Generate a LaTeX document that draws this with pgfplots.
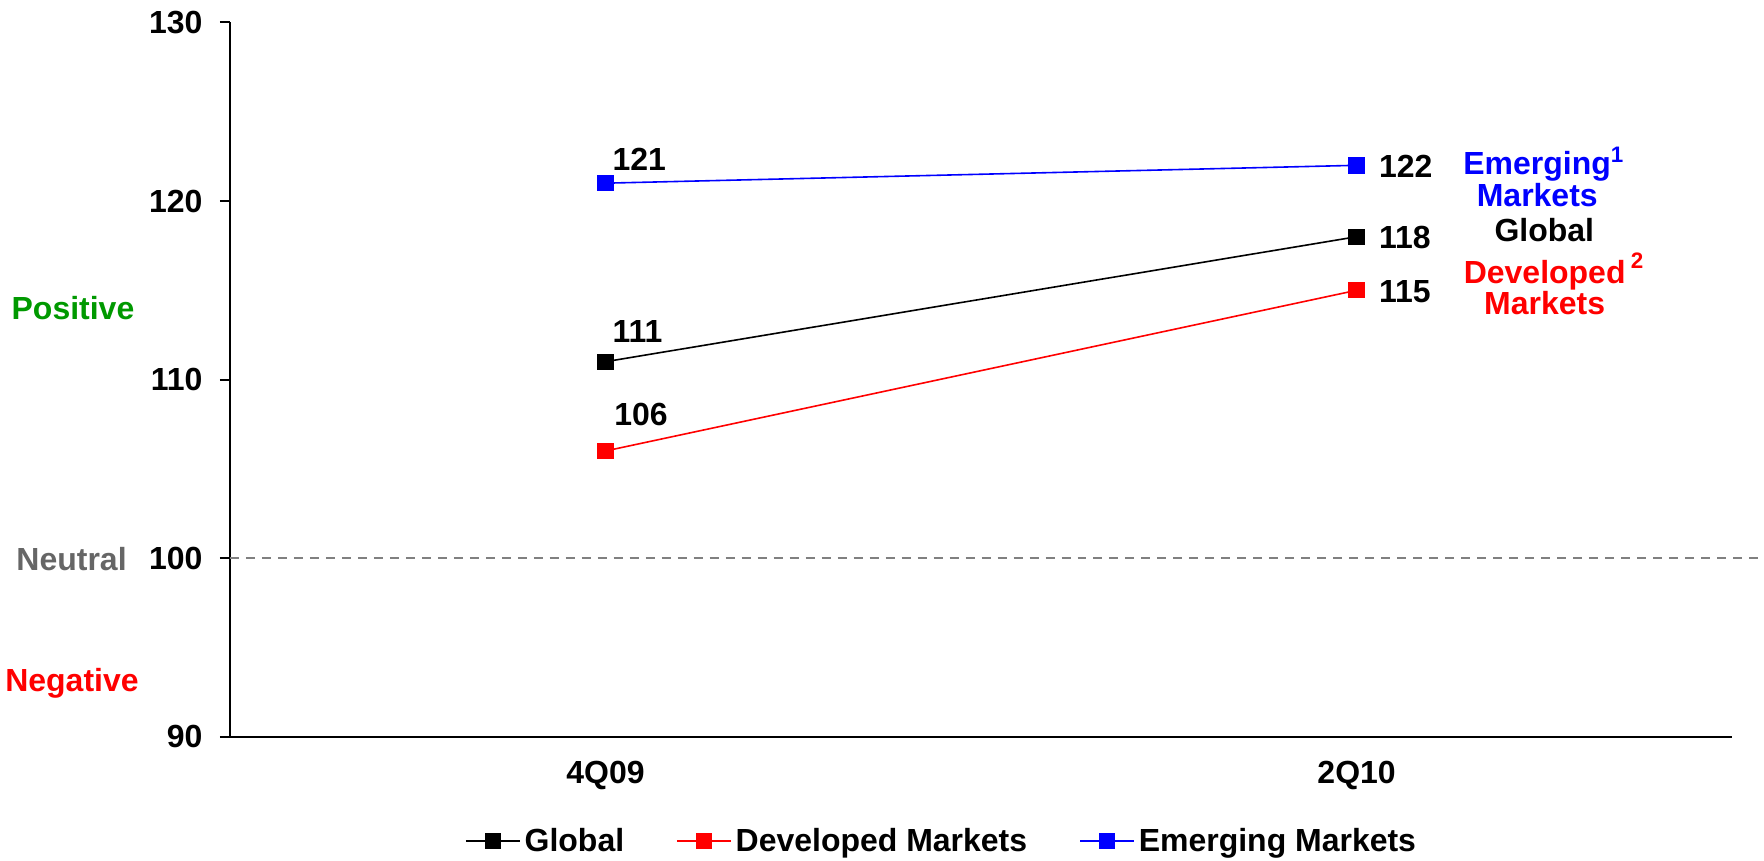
\documentclass[border=0pt]{standalone}
\usepackage{pgfplots}
\pgfplotsset{compat=1.18}
\usepackage{fontspec}
\setmainfont{Liberation Sans}
\definecolor{posgreen}{RGB}{0,153,0}
\definecolor{neutgray}{RGB}{102,102,102}
\definecolor{refgray}{RGB}{128,128,128}

\begin{document}
\begin{tikzpicture}[font=\fontsize{16pt}{15pt}\selectfont\bfseries]
\begin{axis}[
  scale only axis,
  width=751.5pt, height=357.25pt,
  xmin=-0.5, xmax=1.5, ymin=90, ymax=130,
  axis x line=bottom, axis y line=left,
  axis line style={-, line width=1pt},
  xtick={0,1}, xticklabels={4Q09,2Q10},
  ytick={90,100,110,120,130},
  tick align=outside, major tick length=5pt,
  major x tick style={draw=none},
  y tick style={line width=1pt, black},
  xticklabel style={anchor=north, inner sep=0pt, yshift=-7.3pt},
  yticklabel style={anchor=east, inner sep=0pt, xshift=-8.5pt},
  /pgf/number format/assume math mode=true,
  clip=false,
  legend columns=3,
  legend style={
    draw=none, fill=none,
    at={(0.4744,-0.1463)}, anchor=center,
    inner sep=0pt,
    /tikz/every even column/.append style={column sep=24pt},
  },
  legend image code/.code={%
    \draw[mark repeat=2, mark phase=2] plot coordinates {(0pt,0pt) (13.5pt,0pt) (27pt,0pt)};},
  every axis plot/.append style={line width=0.8pt, mark=square*, mark size=3.7pt},
]
% neutral reference line at 100
\addplot[forget plot, refgray, dashed, dash pattern=on 4.5pt off 3.5pt, line width=0.8pt, mark=none]
  coordinates {(-0.5,100) (1.5413,100)};

\addplot[black, mark options={fill=black}] coordinates {(0,111) (1,118)};
\addlegendentry{Global}
\addplot[red, mark options={fill=red}] coordinates {(0,106) (1,115)};
\addlegendentry{Developed Markets}
\addplot[blue, mark options={fill=blue}] coordinates {(0,121) (1,122)};
\addlegendentry{Emerging Markets}

% value labels
\node[anchor=base west, inner sep=0pt, xshift=3.35pt, yshift=6.35pt] at (axis cs:0,121) {121};
\node[anchor=base west, inner sep=0pt, xshift=3.35pt, yshift=9.65pt] at (axis cs:0,111) {111};
\node[anchor=base west, inner sep=0pt, xshift=4.2pt, yshift=12.5pt] at (axis cs:0,106) {106};
\node[anchor=west, inner sep=0pt, xshift=11pt, yshift=-0.6pt] at (axis cs:1,122) {122};
\node[anchor=west, inner sep=0pt, xshift=11pt, yshift=-0.6pt] at (axis cs:1,118) {118};
\node[anchor=west, inner sep=0pt, xshift=11pt, yshift=-0.6pt] at (axis cs:1,115) {115};
\end{axis}

% series names at the right
\node[anchor=base, inner sep=0pt, text=blue] at (653.9pt,281pt) {Emerging\rlap{\textsuperscript{1}}};
\node[anchor=base, inner sep=0pt, text=blue] at (654pt,265.2pt) {Markets};
\node[anchor=base, inner sep=0pt] at (657.5pt,247.7pt) {Global};
\node[anchor=base, inner sep=0pt, text=red] at (657.7pt,226.8pt) {Developed\rlap{\,\raisebox{1pt}{\textsuperscript{2}}}};
\node[anchor=base, inner sep=0pt, text=red] at (657.7pt,211pt) {Markets};

% sentiment labels at the left
\node[anchor=base, inner sep=0pt, text=posgreen] at (-78.5pt,208.5pt) {Positive};
\node[anchor=base, inner sep=0pt, text=neutgray] at (-79.2pt,83.3pt) {Neutral};
\node[anchor=base, inner sep=0pt, text=red] at (-79pt,22.8pt) {Negative};

\path (-115pt,-62pt) rectangle (767pt,368.5pt);
\end{tikzpicture}
\end{document}
